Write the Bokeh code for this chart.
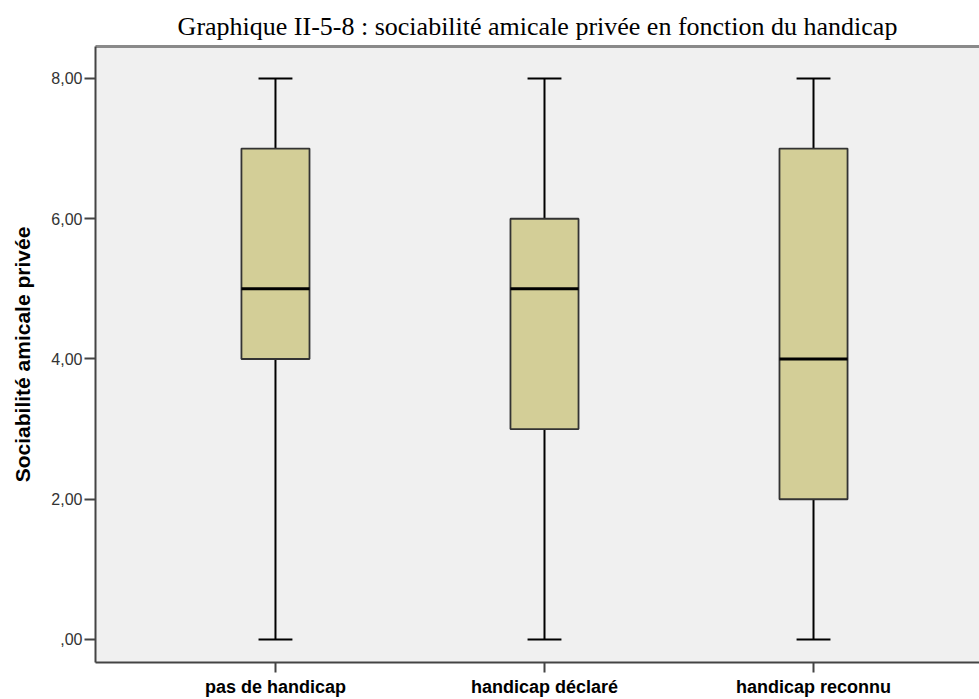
from bokeh.plotting import figure
from bokeh.models import (Range1d, FixedTicker, LinearAxis, Title)
from bokeh.embed import file_html
from bokeh.resources import INLINE

# ---- data ----
categories = ["pas de handicap", "handicap déclaré", "handicap reconnu"]
positions = [1, 2, 3]
mins = [0, 0, 0]
q1 = [4, 3, 2]
medians = [5, 5, 4]
q3 = [7, 6, 7]
maxs = [8, 8, 8]
y_ticks = [0, 2, 4, 6, 8]
y_tick_labels = [",00", "2,00", "4,00", "6,00", "8,00"]

title_text = "Graphique II-5-8 : sociabilité amicale privée en fonction du handicap"
y_label = "Sociabilité amicale privée"

BOX_W = 0.253
CAP_W = 0.126

p = figure(width=979, height=699, output_backend="svg", toolbar_location=None,
           x_range=Range1d(0.331, 3.617), y_range=Range1d(-0.328, 8.456),
           min_border_left=95, min_border_right=0, min_border_top=46,
           min_border_bottom=20, x_axis_location=None, y_axis_location=None)

p.title = Title(text=title_text, align="center",
                text_font="Liberation Serif", text_font_size="26px",
                text_font_style="normal", text_color="#000000",
                standoff=12, offset=0)
p.background_fill_color = "#F0F0F0"
p.border_fill_color = "#FFFFFF"
p.outline_line_color = None
p.xgrid.visible = False
p.ygrid.visible = False

# y axis
ya = LinearAxis(ticker=FixedTicker(ticks=y_ticks),
                major_label_overrides={t: l for t, l in zip(y_ticks, y_tick_labels)},
                axis_label=y_label)
ya.axis_line_color = "#444444"
ya.axis_line_width = 2
ya.major_tick_line_color = "#444444"
ya.major_tick_line_width = 2
ya.major_tick_out = 11
ya.major_tick_in = 0
ya.minor_tick_line_color = None
ya.major_label_text_font = "Liberation Sans"
ya.major_label_text_font_size = "16px"
ya.major_label_text_color = "#333333"
ya.major_label_standoff = 2
ya.axis_label_text_font = "Liberation Sans"
ya.axis_label_text_font_size = "21px"
ya.axis_label_text_font_style = "bold"
ya.axis_label_text_color = "#000000"
ya.axis_label_standoff = 14
p.add_layout(ya, "left")

# x axis
xa = LinearAxis(ticker=FixedTicker(ticks=positions),
                major_label_overrides={pos: c for pos, c in zip(positions, categories)})
xa.axis_line_color = "#444444"
xa.axis_line_width = 2
xa.major_tick_line_color = "#444444"
xa.major_tick_line_width = 2
xa.major_tick_out = 10
xa.major_tick_in = 0
xa.minor_tick_line_color = None
xa.major_label_text_font = "Liberation Sans"
xa.major_label_text_font_size = "18px"
xa.major_label_text_font_style = "bold"
xa.major_label_text_color = "#000000"
xa.major_label_standoff = 4
p.add_layout(xa, "below")

# top border line
ta = LinearAxis(ticker=FixedTicker(ticks=[]))
ta.axis_line_color = "#8a8a8a"
ta.axis_line_width = 3
ta.major_tick_line_color = None
ta.minor_tick_line_color = None
ta.major_label_text_font_size = "0px"
ta.major_label_standoff = 0
p.add_layout(ta, "above")

# whiskers
p.segment(x0=positions, y0=q3, x1=positions, y1=maxs, line_color="#000000", line_width=2)
p.segment(x0=positions, y0=mins, x1=positions, y1=q1, line_color="#000000", line_width=2)
# boxes
p.vbar(x=positions, width=BOX_W, bottom=q1, top=q3,
       fill_color="#D3CE97", line_color="#333333", line_width=1.8)
# medians
p.segment(x0=[x - BOX_W / 2 for x in positions], y0=medians,
          x1=[x + BOX_W / 2 for x in positions], y1=medians,
          line_color="#000000", line_width=3)
# caps
p.segment(x0=[x - CAP_W / 2 for x in positions], y0=maxs,
          x1=[x + CAP_W / 2 for x in positions], y1=maxs,
          line_color="#000000", line_width=2)
p.segment(x0=[x - CAP_W / 2 for x in positions], y0=mins,
          x1=[x + CAP_W / 2 for x in positions], y1=mins,
          line_color="#000000", line_width=2)

open("out.html", "w").write(file_html(p, INLINE))
